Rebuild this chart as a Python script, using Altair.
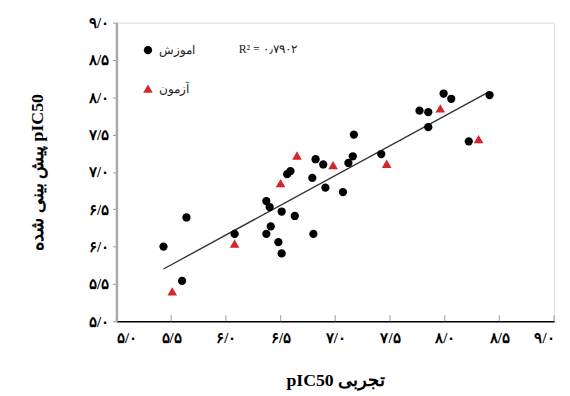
import altair as alt
import pandas as pd

# ---- data ----
train_label = "اموزش"
test_label = "آزمون"

train_x = [7.99, 8.06, 8.41, 7.77, 7.85, 7.85, 7.17, 8.22, 6.82, 6.89, 7.12, 7.16,
           7.42, 6.56, 6.59, 6.79, 6.91, 7.07, 6.37, 6.40, 6.51, 6.63, 5.64, 6.08,
           6.41, 6.37, 6.48, 6.51, 6.80, 5.43, 5.60]
train_y = [8.05, 7.98, 8.03, 7.82, 7.80, 7.60, 7.50, 7.41, 7.17, 7.10, 7.12, 7.21,
           7.24, 6.97, 7.01, 6.92, 6.79, 6.73, 6.61, 6.53, 6.47, 6.41, 6.39, 6.17,
           6.27, 6.17, 6.06, 5.91, 6.17, 6.00, 5.54]

test_x = [7.96, 8.31, 6.65, 6.98, 7.47, 6.50, 6.08, 5.51]
test_y = [7.85, 7.44, 7.22, 7.09, 7.11, 6.85, 6.04, 5.40]

line_x = [5.43, 8.40]
line_y = [5.70, 8.07]

tick_values = [5.0, 5.5, 6.0, 6.5, 7.0, 7.5, 8.0, 8.5, 9.0]
r2_text = "R² = ۰٫۷۹۰۲"
x_title = "pIC50 تجربی"
y_title = "پیش بینی شده pIC50"

# ---- tables ----
points = pd.DataFrame({
    "x": train_x + test_x,
    "y": train_y + test_y,
    "group": [train_label] * len(train_x) + [test_label] * len(test_x),
})
line_df = pd.DataFrame({"x": line_x, "y": line_y})
r2_df = pd.DataFrame({"t": [r2_text]})
ticks_df = pd.DataFrame({"x": tick_values})

fa_label = ("['۰','۱','۲','۳','۴','۵','۶','۷','۸','۹'][floor(datum.value + 0.001)]"
            " + '/' + ((datum.value % 1) > 0.25 ? '۵' : '۰')")

x_scale = alt.Scale(domain=[5, 9], nice=False, zero=False)
y_scale = alt.Scale(domain=[5, 9], nice=False, zero=False)

x_axis = alt.Axis(values=tick_values, labelExpr=fa_label, title=x_title, grid=False,
                  ticks=False, labelPadding=10, labelOverlap=False,
                  labelFont="Liberation Serif", labelFontSize=15, labelFontWeight="bold",
                  labelColor="#000000",
                  titleFont="Liberation Serif", titleFontSize=18, titleFontWeight="bold",
                  titleColor="#000000", titleX=222, titleY=60, titleBaseline="middle",
                  titleAlign="center",
                  domainColor="#000000", domainWidth=1.5)
y_axis = alt.Axis(values=tick_values, labelExpr=fa_label, title=y_title, grid=False,
                  tickSize=4, tickColor="#999999", labelPadding=4, labelOverlap=False,
                  labelFont="Liberation Serif", labelFontSize=15, labelFontWeight="bold",
                  labelColor="#000000",
                  titleFont="Liberation Serif", titleFontSize=18, titleFontWeight="bold",
                  titleColor="#000000", titleX=-80, titleY=151.5, titleAngle=-90,
                  titleBaseline="middle", titleAlign="center",
                  domainColor="#aaaaaa", domainWidth=2.5)

X = alt.X("x:Q", scale=x_scale, axis=x_axis)
Y = alt.Y("y:Q", scale=y_scale, axis=y_axis)

line = alt.Chart(line_df).mark_line(color="#333333", strokeWidth=1.4).encode(x=X, y=Y)

xticks = alt.Chart(ticks_df).mark_rule(color="#aaaaaa", strokeWidth=1.2).encode(
    x=X, y=alt.value(297), y2=alt.value(303),
)

legend_opts = dict(title=None, orient="none", legendX=26, legendY=22,
                   padding=0, rowPadding=27,
                   labelFont="Liberation Serif", labelFontSize=12,
                   labelColor="#222222", labelOffset=5)

group_domain = [train_label, test_label]

pts = alt.Chart(points).mark_point(filled=True, opacity=1).encode(
    x=X,
    y=Y,
    color=alt.Color("group:N",
                    scale=alt.Scale(domain=group_domain, range=["#000000", "#d8232d"]),
                    legend=alt.Legend(**legend_opts)),
    shape=alt.Shape("group:N",
                    scale=alt.Scale(domain=group_domain, range=["circle", "triangle-up"]),
                    legend=alt.Legend(**legend_opts)),
    size=alt.Size("group:N",
                  scale=alt.Scale(domain=group_domain, range=[70, 95]),
                  legend=alt.Legend(**legend_opts)),
)

r2 = alt.Chart(r2_df).mark_text(align="left", baseline="middle",
                                font="Liberation Serif", fontSize=12,
                                color="#222222").encode(
    text="t:N", x=alt.value(124), y=alt.value(27)
)

chart = alt.layer(line, xticks, pts, r2).properties(
    width=444, height=303,
    padding={"left": 110, "top": 12, "right": 8, "bottom": 73},
    autosize=alt.AutoSizeParams(type="none"),
).configure_view(stroke="#444444", strokeWidth=1.5).configure(background="white")

chart.save("out.html", embed_options={"renderer": "svg", "actions": False})
